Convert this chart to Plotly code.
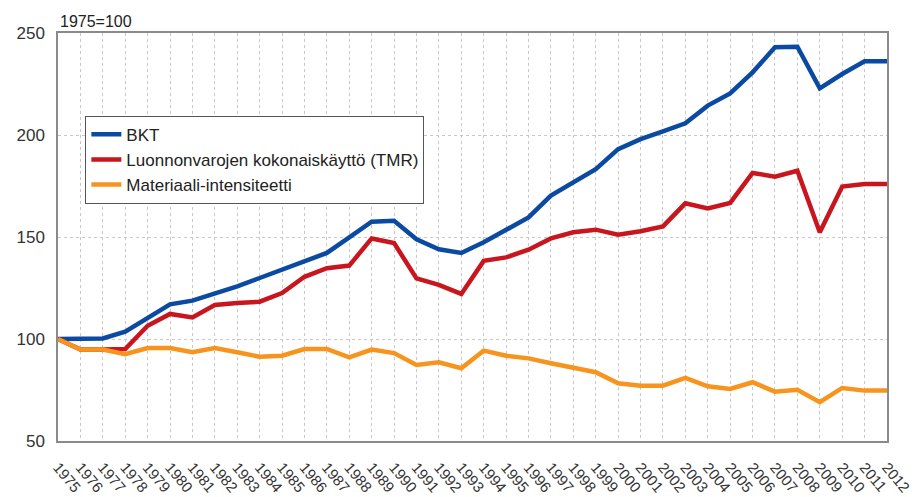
import plotly.graph_objects as go

years = list(range(1975, 2013))
bkt = [100, 100.3, 100.3, 103.6, 110.6, 117.0, 118.8, 122.1, 125.8, 129.9,
       134.0, 137.6, 142.2, 149.8, 157.5, 158.0, 148.9, 144.0, 142.2, 147.4,
       153.4, 159.6, 170.3, 177.1, 183.3, 193.1, 198.0, 201.8, 205.7, 214.4,
       220.4, 230.7, 243.0, 243.3, 222.9, 229.9, 236.1, 236.1]
tmr = [100, 94.8, 94.8, 95.1, 106.5, 112.3, 110.6, 116.7, 117.6, 118.3,
       122.5, 130.5, 134.7, 136.0, 149.3, 147.0, 129.7, 126.5, 122.1, 138.3,
       140.0, 143.8, 149.3, 152.3, 153.6, 151.1, 152.8, 155.2, 166.5, 164.0,
       166.7, 181.4, 179.6, 182.5, 152.3, 174.7, 176.0, 176.0]
intensity = [100, 94.8, 94.8, 92.6, 95.6, 95.6, 93.5, 95.6, 93.5, 91.3,
             91.8, 95.1, 95.1, 91.0, 94.8, 93.1, 87.3, 88.6, 85.7, 94.3,
             91.8, 90.5, 88.1, 85.8, 83.7, 78.3, 77.1, 77.1, 80.9, 76.8,
             75.5, 78.8, 74.2, 75.1, 69.0, 76.0, 74.7, 74.7]
tick_labels = [str(y) for y in years]

fig = go.Figure()
fig.add_trace(go.Scatter(x=years, y=bkt, mode="lines", name="BKT",
                         line=dict(color="#0B4AA2", width=4.5)))
fig.add_trace(go.Scatter(x=years, y=tmr, mode="lines",
                         name="Luonnonvarojen kokonaiskäyttö (TMR)",
                         line=dict(color="#C9161E", width=4.5)))
fig.add_trace(go.Scatter(x=years, y=intensity, mode="lines",
                         name="Materiaali-intensiteetti",
                         line=dict(color="#F7941D", width=4.5)))

fig.update_layout(
    width=912, height=489,
    margin=dict(l=50, r=33, t=25, b=56),
    paper_bgcolor="white", plot_bgcolor="white",
    font=dict(family="Liberation Sans, Arial, sans-serif", color="#333333"),
    showlegend=True,
    legend=dict(x=0.033, y=0.797, xanchor="left", yanchor="top",
                bgcolor="white", bordercolor="#555555", borderwidth=1,
                font=dict(size=17, color="#222222"),
                itemwidth=30),
    annotations=[dict(text="1975=100", xref="paper", yref="paper",
                      x=0.0, y=1.0, xanchor="left", yanchor="bottom",
                      yshift=1, showarrow=False,
                      font=dict(size=16, color="#222222"))],
)
fig.update_xaxes(range=[1975, 2012], tickmode="array", tickvals=years,
                 ticktext=tick_labels, tickangle=50,
                 tickfont=dict(size=15, color="#333333"),
                 showgrid=True, gridcolor="#C8C8C8", griddash="dot", gridwidth=1,
                 showline=True, linecolor="#8A8A8A", linewidth=1.5, mirror=True,
                 zeroline=False, ticks="", automargin=False, ticklabelstandoff=10)
fig.update_yaxes(range=[50, 250], dtick=50,
                 tickfont=dict(size=17, color="#333333"),
                 showgrid=True, gridcolor="#C8C8C8", griddash="dot", gridwidth=1,
                 showline=True, linecolor="#8A8A8A", linewidth=1.5, mirror=True,
                 zeroline=False, ticks="", ticklabelstandoff=8, automargin=False)

fig.write_html("out.html")
